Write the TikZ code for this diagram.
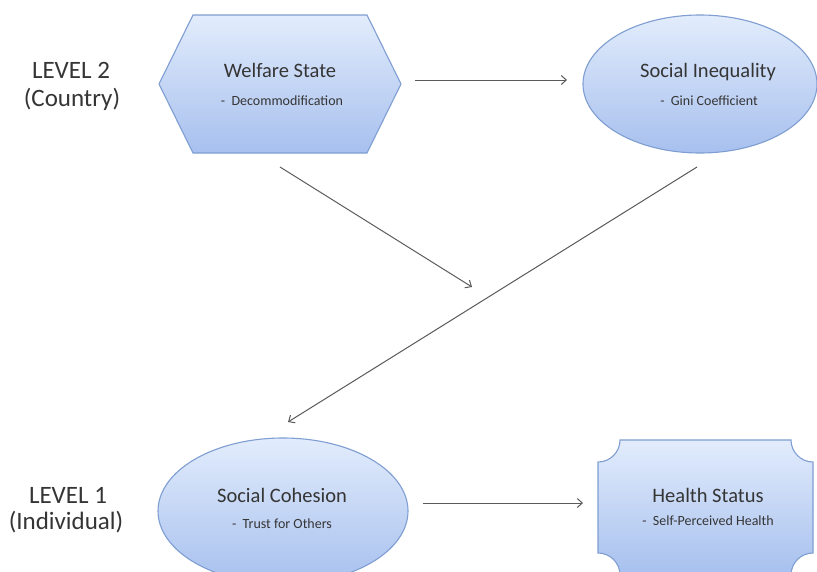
\documentclass[tikz,border=0pt]{standalone}
\usepackage{fontspec}
\setmainfont{Carlito}
\usetikzlibrary{arrows.meta}
\definecolor{filltop}{HTML}{E2ECFC}
\definecolor{fillbot}{HTML}{A7C0EE}
\definecolor{edge}{HTML}{7F9ED2}
\definecolor{txt}{HTML}{353535}
\definecolor{arr}{HTML}{5A5A5A}
\tikzset{
  shapebox/.style={top color=filltop, bottom color=fillbot, draw=edge, line width=1.1pt},
  title/.style={anchor=base, inner sep=0pt, text=txt, font=\fontsize{20.5}{24}\selectfont},
  subtitle/.style={anchor=base, inner sep=0pt, text=txt, font=\fontsize{14}{16}\selectfont},
  levellabel/.style={anchor=base, inner sep=0pt, text=txt, font=\fontsize{25}{28}\selectfont},
  link/.style={draw=arr, line width=1pt, -{Straight Barb[length=5pt,width=9pt]}}
}
\begin{document}
\begin{tikzpicture}[x=1pt,y=-1pt]
\clip (0,0) rectangle (817,571);
\fill[white] (0,0) rectangle (817,571);

% Level labels
\node[levellabel] (l2a) at (71,78) {LEVEL 2};
\node[levellabel] (l2b) at (72,106) {(Country)};
\node[levellabel] (l1a) at (68,503) {LEVEL 1};
\node[levellabel] (l1b) at (66,529) {(Individual)};

% Welfare State hexagon
\path[shapebox] (193,15) -- (367,15) -- (401,84) -- (367,153) -- (193,153) -- (159,84) -- cycle;
\node[title] (ws) at (280,77) {Welfare State};
\node[subtitle] (wsd) at (282,105) {-\ \ Decommodification};

% Social Inequality ellipse
\path[shapebox] (700,84) ellipse [x radius=117pt, y radius=69pt];
\node[title] (si) at (708,77) {Social Inequality};
\node[subtitle] (sid) at (709,105) {-\ \ Gini Coefficient};

% Social Cohesion ellipse
\path[shapebox] (283,511) ellipse [x radius=125pt, y radius=73pt];
\node[title] (sc) at (282,502) {Social Cohesion};
\node[subtitle] (scd) at (282,528) {-\ \ Trust for Others};

% Health Status plaque
\path[shapebox]
  (620,440) -- (791,440)
  .. controls (791,452.1) and (800.9,462) .. (813,462)
  -- (813,553)
  .. controls (800.9,553) and (791,562.9) .. (791,575)
  -- (620,575)
  .. controls (620,562.9) and (610.1,553) .. (598,553)
  -- (598,462)
  .. controls (610.1,462) and (620,452.1) .. (620,440) -- cycle;
\node[title] (hs) at (708,502) {Health Status};
\node[subtitle] (hsd) at (708,525) {-\ \ Self-Perceived Health};

% connector ends
\coordinate (a1s) at (415,80);
\coordinate (a1e) at (567,80);
\coordinate (a2s) at (280,167);
\coordinate (a2e) at (472,287);
\coordinate (a3s) at (697,167);
\coordinate (a3e) at (288,422);
\coordinate (a4s) at (423,503);
\coordinate (a4e) at (583,503);

\draw[link] (a1s) -- (a1e);
\draw[link] (a2s) -- (a2e);
\draw[link] (a3s) -- (a3e);
\draw[link] (a4s) -- (a4e);
\end{tikzpicture}
\end{document}
